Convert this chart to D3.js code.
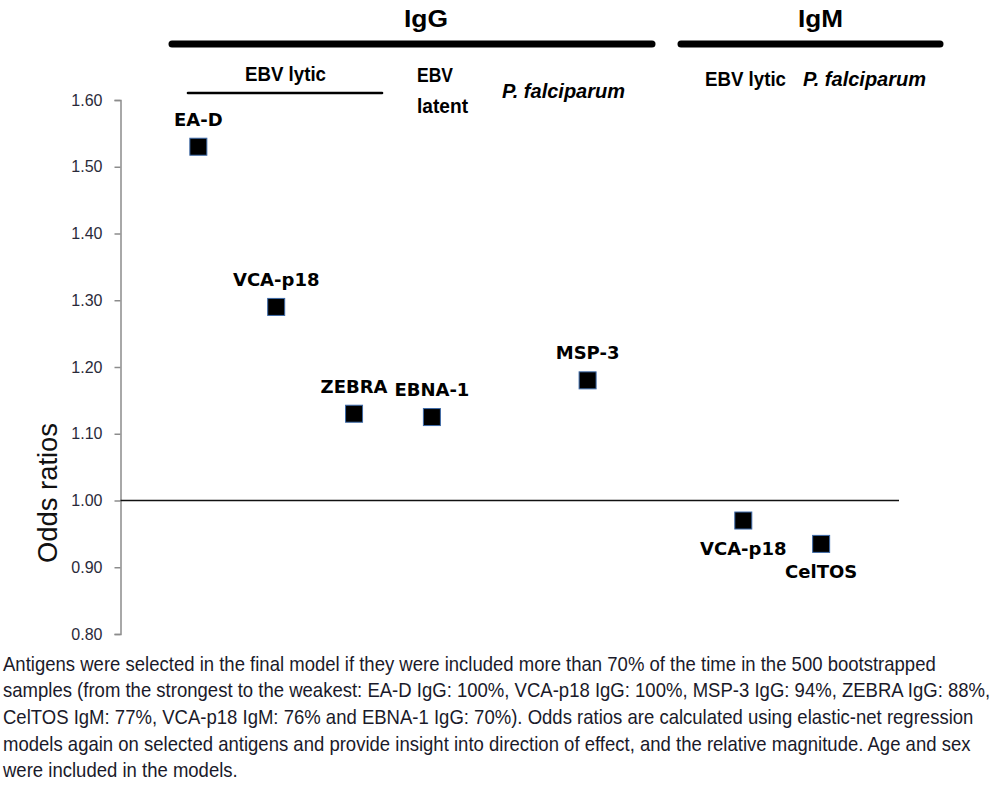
<!DOCTYPE html>
<html>
<head>
<meta charset="utf-8">
<script src="https://cdn.jsdelivr.net/npm/d3@7"></script>
<style>
  body { margin: 0; background: #fff; }
  svg { display: block; }
</style>
</head>
<body>
<div id="chart"></div>
<script>
//Data
var antigens = ["EA-D", "VCA-p18", "ZEBRA", "EBNA-1", "MSP-3", "VCA-p18", "CelTOS"];
var isotypes = ["IgG", "IgG", "IgG", "IgG", "IgG", "IgM", "IgM"];
var slots = [1, 2, 3, 4, 6, 8, 9];
var oddsRatios = [1.53, 1.29, 1.13, 1.125, 1.18, 0.97, 0.935];
var yTicks = [0.80, 0.90, 1.00, 1.10, 1.20, 1.30, 1.40, 1.50, 1.60];
var captionLines = [
  "Antigens were selected in the final model if they were included more than 70% of the time in the 500 bootstrapped",
  "samples (from the strongest to the weakest: EA-D IgG: 100%, VCA-p18 IgG: 100%, MSP-3 IgG: 94%, ZEBRA IgG: 88%,",
  "CelTOS IgM: 77%, VCA-p18 IgM: 76% and EBNA-1 IgG: 70%). Odds ratios are calculated using elastic-net regression",
  "models again on selected antigens and provide insight into direction of effect, and the relative magnitude. Age and sex",
  "were included in the models."
];

var points = antigens.map(function(d, i){
  return { name: d, iso: isotypes[i], slot: slots[i], or: oddsRatios[i] };
});

//Width and height
var w = 999;
var h = 798;

var svg = d3.select("#chart")
  .append("svg")
  .attr("width", w)
  .attr("height", h);

//Scales
var xScale = d3.scaleLinear().domain([0, 10]).range([120.5, 899]);
var yScale = d3.scaleLinear().domain([0.8, 1.6]).range([634, 100]);

//Y axis
var yAxis = d3.axisLeft(yScale)
  .tickValues(yTicks)
  .tickSize(6)
  .tickPadding(12)
  .tickFormat(d3.format(".2f"));

var gy = svg.append("g")
  .attr("class", "axis y")
  .attr("transform", "translate(" + xScale(0) + ",0)")
  .call(yAxis);

gy.select(".domain").attr("stroke", "#8c8c8c").attr("stroke-width", 1.5);
gy.selectAll(".tick line").attr("stroke", "#8c8c8c").attr("stroke-width", 1.5);
gy.selectAll(".tick text")
  .attr("font-family", "'Liberation Sans', Arial, sans-serif")
  .attr("font-size", 16)
  .attr("fill", "#2a2a3a");

//Reference line at OR = 1
svg.append("line")
  .attr("x1", xScale(0))
  .attr("x2", xScale(10))
  .attr("y1", yScale(1))
  .attr("y2", yScale(1))
  .attr("stroke", "#111")
  .attr("stroke-width", 1.6);

//Y label
svg.append("text")
  .attr("transform", "translate(57," + 493 + ") rotate(-90)")
  .attr("text-anchor", "middle")
  .attr("font-family", "'Liberation Sans', Arial, sans-serif")
  .attr("font-size", 27)
  .attr("textLength", 140)
  .attr("lengthAdjust", "spacingAndGlyphs")
  .attr("fill", "#111")
  .text("Odds ratios");

//Group headers
var headFont = "'Liberation Sans', Arial, sans-serif";

function headText(x, y, txt, size, len, italic){
  svg.append("text")
    .attr("x", x)
    .attr("y", y)
    .attr("font-family", headFont)
    .attr("font-weight", "bold")
    .attr("font-style", italic ? "italic" : "normal")
    .attr("font-size", size)
    .attr("textLength", len)
    .attr("lengthAdjust", "spacingAndGlyphs")
    .attr("fill", "#000")
    .text(txt);
}

function bar(x1, x2, y, sw){
  svg.append("line")
    .attr("x1", x1).attr("x2", x2)
    .attr("y1", y).attr("y2", y)
    .attr("stroke", "#000")
    .attr("stroke-width", sw)
    .attr("stroke-linecap", "round");
}

headText(404, 27, "IgG", 24, 44);
headText(798, 27, "IgM", 24, 45);
bar(172, 652, 44, 7);
bar(681, 940, 44, 7);

headText(245, 81, "EBV lytic", 20, 81);
bar(188, 382, 93, 2.6);
headText(417, 82, "EBV", 20, 36);
headText(417, 113, "latent", 20, 51);
headText(502, 98, "P. falciparum", 20, 123, true);

headText(705, 86, "EBV lytic", 20, 81);
headText(803, 86, "P. falciparum", 20, 123, true);

//Markers
var size = 17;
svg.selectAll("rect.pt")
  .data(points)
  .enter()
  .append("rect")
  .attr("class", "pt")
  .attr("x", function(d){ return xScale(d.slot) - size / 2; })
  .attr("y", function(d){ return yScale(d.or) - size / 2; })
  .attr("width", size)
  .attr("height", size)
  .attr("fill", "#000")
  .attr("stroke", "#3d6aa8")
  .attr("stroke-width", 1);

//Point labels: IgG above, IgM below
svg.selectAll("text.lbl")
  .data(points)
  .enter()
  .append("text")
  .attr("class", "lbl")
  .attr("x", function(d){ return xScale(d.slot); })
  .attr("y", function(d){
    return d.iso === "IgG" ? yScale(d.or) - 21 : yScale(d.or) + 34;
  })
  .attr("text-anchor", "middle")
  .attr("font-family", "'DejaVu Sans', sans-serif")
  .attr("font-weight", "bold")
  .attr("font-size", 18)
  .attr("fill", "#000")
  .text(function(d){ return d.name; });

//Caption: one horizontal squeeze for all lines, fitted on the longest full line
var caps = svg.selectAll("text.cap")
  .data(captionLines)
  .enter()
  .append("text")
  .attr("class", "cap")
  .attr("font-family", "'Liberation Sans', Arial, sans-serif")
  .attr("font-size", 20)
  .attr("fill", "#1a1a2a")
  .text(function(d){ return d; });

var widest = d3.max(caps.nodes(), function(n){ return n.getComputedTextLength(); });
var squeeze = 988 / widest;

caps.attr("transform", function(d, i){
  return "translate(3," + (670.7 + i * 26.6) + ") scale(" + squeeze + ",1)";
});
</script>
</body>
</html>
